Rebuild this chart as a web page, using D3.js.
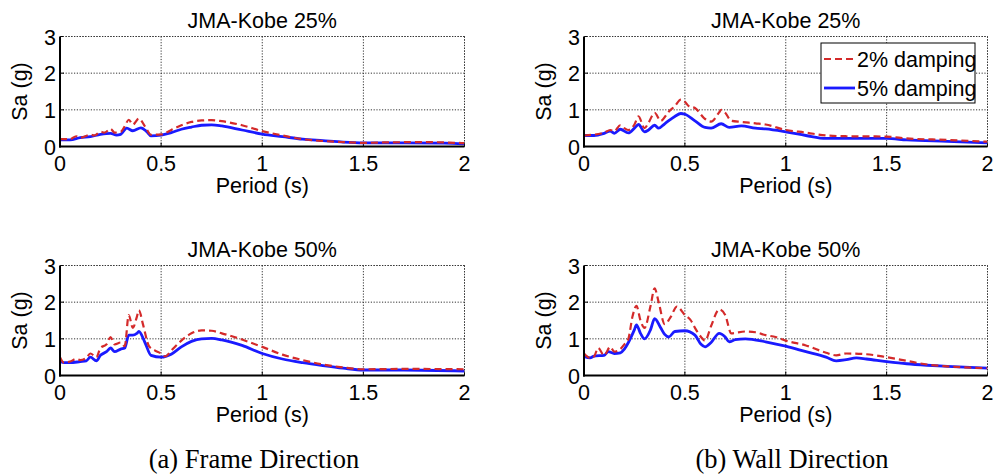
<!DOCTYPE html>
<html>
<head>
<meta charset="utf-8">
<script src="https://cdn.jsdelivr.net/npm/d3@7"></script>
<style>
  html, body { margin: 0; padding: 0; background: #fff; }
  svg { display: block; }
</style>
</head>
<body>
<svg id="chart" width="993" height="475"></svg>
<script>
// ---------- data ----------
const titles = ["JMA-Kobe 25%", "JMA-Kobe 25%", "JMA-Kobe 50%", "JMA-Kobe 50%"];
const captions = ["(a) Frame Direction", "(b) Wall Direction"];
const legendLabels = ["2% damping", "5% damping"];
const xTicks = [0, 0.5, 1, 1.5, 2];
const yTicks = [0, 1, 2, 3];
const xLabel = "Period (s)";
const yLabel = "Sa (g)";

// Frame direction, JMA-Kobe 25%  [period, Sa]
const frame25_d2 = [[0,0.2],[0.05,0.2],[0.08,0.28],[0.1,0.24],[0.15,0.32],[0.17,0.3],[0.2,0.4],[0.22,0.38],[0.25,0.48],[0.27,0.38],[0.3,0.4],[0.32,0.55],[0.34,0.73],[0.36,0.6],[0.39,0.76],[0.42,0.55],[0.45,0.32],[0.5,0.33],[0.55,0.45],[0.6,0.58],[0.65,0.67],[0.7,0.71],[0.75,0.72],[0.8,0.69],[0.9,0.58],[1.0,0.42],[1.1,0.3],[1.2,0.2],[1.3,0.15],[1.4,0.12],[1.5,0.1],[1.6,0.11],[1.8,0.12],[2.0,0.09]];
const frame25_d5 = [[0,0.18],[0.05,0.18],[0.1,0.24],[0.15,0.27],[0.2,0.33],[0.25,0.36],[0.28,0.31],[0.3,0.33],[0.33,0.5],[0.36,0.43],[0.4,0.51],[0.43,0.4],[0.45,0.29],[0.5,0.31],[0.55,0.38],[0.6,0.47],[0.65,0.53],[0.7,0.58],[0.75,0.59],[0.8,0.56],[0.9,0.45],[1.0,0.34],[1.1,0.27],[1.2,0.2],[1.3,0.16],[1.4,0.12],[1.5,0.1],[1.7,0.1],[1.9,0.09],[2.0,0.07]];

// Wall direction, JMA-Kobe 25%
const wall25_d2 = [[0,0.3],[0.1,0.38],[0.13,0.45],[0.15,0.42],[0.18,0.58],[0.2,0.5],[0.22,0.45],[0.25,0.6],[0.27,0.82],[0.3,0.5],[0.32,0.65],[0.35,0.92],[0.38,0.7],[0.42,0.95],[0.45,1.1],[0.48,1.28],[0.5,1.22],[0.52,1.1],[0.55,1.05],[0.6,0.75],[0.63,0.68],[0.67,0.93],[0.68,1.0],[0.7,0.92],[0.73,0.7],[0.78,0.67],[0.85,0.63],[0.9,0.6],[1.0,0.45],[1.1,0.38],[1.2,0.3],[1.3,0.28],[1.5,0.27],[1.6,0.22],[1.8,0.18],[2.0,0.13]];
const wall25_d5 = [[0,0.3],[0.05,0.3],[0.1,0.36],[0.13,0.42],[0.15,0.36],[0.18,0.47],[0.22,0.37],[0.25,0.5],[0.27,0.6],[0.3,0.4],[0.32,0.45],[0.35,0.58],[0.37,0.5],[0.4,0.62],[0.45,0.82],[0.48,0.9],[0.5,0.88],[0.55,0.7],[0.6,0.52],[0.63,0.5],[0.68,0.62],[0.72,0.52],[0.78,0.56],[0.85,0.5],[0.9,0.48],[1.0,0.4],[1.1,0.3],[1.2,0.22],[1.3,0.22],[1.5,0.22],[1.6,0.18],[1.8,0.14],[2.0,0.1]];

// Frame direction, JMA-Kobe 50%
const frame50_d2 = [[0,0.5],[0.02,0.35],[0.05,0.38],[0.08,0.45],[0.1,0.42],[0.13,0.48],[0.15,0.6],[0.18,0.5],[0.2,0.75],[0.23,0.85],[0.25,1.05],[0.27,0.85],[0.3,0.9],[0.32,0.8],[0.34,1.65],[0.36,1.3],[0.38,1.6],[0.39,1.78],[0.41,1.4],[0.44,0.8],[0.47,0.68],[0.5,0.6],[0.52,0.52],[0.55,0.68],[0.6,0.95],[0.65,1.15],[0.7,1.23],[0.75,1.22],[0.8,1.15],[0.9,0.98],[1.0,0.78],[1.1,0.57],[1.2,0.42],[1.3,0.3],[1.4,0.22],[1.5,0.17],[1.7,0.18],[2.0,0.17]];
const frame50_d5 = [[0,0.38],[0.02,0.35],[0.05,0.35],[0.1,0.38],[0.13,0.4],[0.15,0.5],[0.18,0.4],[0.2,0.55],[0.23,0.65],[0.25,0.75],[0.27,0.65],[0.3,0.72],[0.32,0.75],[0.34,1.1],[0.36,1.1],[0.38,1.15],[0.39,1.2],[0.42,0.9],[0.45,0.55],[0.5,0.5],[0.55,0.58],[0.6,0.78],[0.65,0.93],[0.7,1.0],[0.75,1.01],[0.8,0.97],[0.9,0.82],[1.0,0.6],[1.1,0.45],[1.2,0.35],[1.3,0.27],[1.4,0.2],[1.5,0.15],[1.7,0.15],[2.0,0.12]];

// Wall direction, JMA-Kobe 50%
const wall50_d2 = [[0,0.6],[0.03,0.48],[0.05,0.52],[0.07,0.75],[0.1,0.55],[0.13,0.78],[0.15,0.65],[0.18,0.72],[0.2,0.85],[0.22,1.0],[0.24,1.6],[0.26,1.9],[0.28,1.5],[0.3,1.3],[0.33,1.9],[0.35,2.38],[0.37,2.0],[0.4,1.4],[0.43,1.6],[0.46,1.88],[0.5,1.65],[0.53,1.5],[0.55,1.3],[0.58,1.05],[0.6,0.95],[0.63,1.35],[0.67,1.8],[0.7,1.65],[0.73,1.15],[0.8,1.2],[0.85,1.18],[0.9,1.1],[0.95,1.05],[1.0,0.95],[1.1,0.82],[1.2,0.62],[1.25,0.55],[1.3,0.6],[1.4,0.58],[1.5,0.5],[1.6,0.4],[1.7,0.3],[1.8,0.25],[2.0,0.2]];
const wall50_d5 = [[0,0.52],[0.03,0.48],[0.05,0.53],[0.1,0.55],[0.12,0.65],[0.15,0.6],[0.18,0.62],[0.2,0.72],[0.22,0.9],[0.25,1.25],[0.26,1.38],[0.28,1.15],[0.3,1.0],[0.33,1.25],[0.35,1.55],[0.38,1.3],[0.4,1.12],[0.42,1.05],[0.45,1.2],[0.5,1.22],[0.55,1.1],[0.58,0.85],[0.6,0.78],[0.63,0.9],[0.67,1.15],[0.7,1.05],[0.72,0.92],[0.75,0.98],[0.8,1.0],[0.9,0.92],[1.0,0.8],[1.1,0.65],[1.2,0.5],[1.25,0.4],[1.3,0.43],[1.35,0.48],[1.4,0.45],[1.5,0.38],[1.6,0.32],[1.7,0.28],[1.8,0.25],[2.0,0.2]];

// ---------- layout ----------
const panels = [
  { title: titles[0], d2: frame25_d2, d5: frame25_d5, left: 60,  right: 464.5, top: 36.5,  bottom: 146.5, legend: false },
  { title: titles[1], d2: wall25_d2,  d5: wall25_d5,  left: 584, right: 987.5, top: 36.5,  bottom: 146.5, legend: true },
  { title: titles[2], d2: frame50_d2, d5: frame50_d5, left: 60,  right: 464.5, top: 265.5, bottom: 375.5, legend: false },
  { title: titles[3], d2: wall50_d2,  d5: wall50_d5,  left: 584, right: 987.5, top: 265.5, bottom: 375.5, legend: false }
];

const RED = "#d42a2a";
const BLUE = "#1a1aff";
const FONT = "'Liberation Sans', Arial, sans-serif";
const FS = 21.5;
const svg = d3.select("#chart");

panels.forEach((p, i) => {
  const x = d3.scaleLinear().domain([0, 2]).range([p.left, p.right]);
  const y = d3.scaleLinear().domain([0, 3]).range([p.bottom, p.top]);
  const g = svg.append("g");

  // grid
  g.append("g").selectAll("line.vg").data(xTicks.slice(1)).join("line")
    .attr("x1", d => x(d)).attr("x2", d => x(d))
    .attr("y1", p.top).attr("y2", p.bottom)
    .attr("stroke", "#333").attr("stroke-width", 1).attr("stroke-dasharray", "1.2,1.6");
  g.append("g").selectAll("line.hg").data(yTicks.slice(1)).join("line")
    .attr("x1", p.left).attr("x2", p.right)
    .attr("y1", d => y(d)).attr("y2", d => y(d))
    .attr("stroke", "#333").attr("stroke-width", 1).attr("stroke-dasharray", "1.2,1.6");

  // inward ticks
  const tl = 4;
  g.append("g").selectAll("line").data(xTicks).join("line")
    .attr("x1", d => x(d)).attr("x2", d => x(d))
    .attr("y1", p.bottom).attr("y2", p.bottom - tl)
    .attr("stroke", "#000").attr("stroke-width", 1);
  g.append("g").selectAll("line").data(yTicks).join("line")
    .attr("x1", p.left).attr("x2", p.left + tl)
    .attr("y1", d => y(d)).attr("y2", d => y(d))
    .attr("stroke", "#000").attr("stroke-width", 1);

  // series
  const clipId = "clip" + i;
  svg.append("clipPath").attr("id", clipId).append("rect")
    .attr("x", p.left).attr("y", p.top).attr("width", p.right - p.left).attr("height", p.bottom - p.top);
  const line = d3.line().x(d => x(d[0])).y(d => y(d[1])).curve(d3.curveMonotoneX);
  const sg = g.append("g").attr("clip-path", `url(#${clipId})`);
  sg.append("path").attr("d", line(p.d5)).attr("fill", "none")
    .attr("stroke", BLUE).attr("stroke-width", 2.8).attr("stroke-linejoin", "round");
  sg.append("path").attr("d", line(p.d2)).attr("fill", "none")
    .attr("stroke", RED).attr("stroke-width", 2.2).attr("stroke-dasharray", "7,4");

  // box: top/right dotted, left/bottom solid
  g.append("line").attr("x1", p.left).attr("x2", p.right).attr("y1", p.top).attr("y2", p.top)
    .attr("stroke", "#333").attr("stroke-width", 1).attr("stroke-dasharray", "1.2,1.6");
  g.append("line").attr("x1", p.right).attr("x2", p.right).attr("y1", p.top).attr("y2", p.bottom)
    .attr("stroke", "#333").attr("stroke-width", 1).attr("stroke-dasharray", "1.2,1.6");
  g.append("line").attr("x1", p.left).attr("x2", p.left).attr("y1", p.top).attr("y2", p.bottom + 1)
    .attr("stroke", "#000").attr("stroke-width", 2);
  g.append("line").attr("x1", p.left - 1).attr("x2", p.right).attr("y1", p.bottom).attr("y2", p.bottom)
    .attr("stroke", "#000").attr("stroke-width", 2);

  // tick labels
  g.append("g").selectAll("text").data(xTicks).join("text")
    .attr("x", d => x(d)).attr("y", p.bottom + 24)
    .attr("text-anchor", "middle").attr("font-family", FONT).attr("font-size", FS)
    .text(d => d3.format("")(d));
  g.append("g").selectAll("text").data(yTicks).join("text")
    .attr("x", p.left - 4).attr("y", d => y(d) + 8)
    .attr("text-anchor", "end").attr("font-family", FONT).attr("font-size", FS)
    .text(d => d);

  // axis labels
  const cx = (p.left + p.right) / 2;
  g.append("text").attr("x", cx).attr("y", p.bottom + 46)
    .attr("text-anchor", "middle").attr("font-family", FONT).attr("font-size", FS)
    .text(xLabel);
  const cy = (p.top + p.bottom) / 2;
  g.append("text").attr("transform", `translate(${p.left - 33},${cy}) rotate(-90)`)
    .attr("text-anchor", "middle").attr("font-family", FONT).attr("font-size", FS)
    .text(yLabel);

  // title
  g.append("text").attr("x", cx).attr("y", p.top - 9)
    .attr("text-anchor", "middle").attr("font-family", FONT).attr("font-size", FS)
    .text(p.title);

  // legend
  if (p.legend) {
    const lg = g.append("g");
    lg.append("rect").attr("x", 821).attr("y", 43).attr("width", 154).attr("height", 60)
      .attr("fill", "#fff").attr("stroke", "#000").attr("stroke-width", 1);
    const items = [
      { label: legendLabels[0], color: RED, dash: "7,4", w: 2.2, yy: 59 },
      { label: legendLabels[1], color: BLUE, dash: null, w: 2.8, yy: 88 }
    ];
    items.forEach(it => {
      lg.append("line").attr("x1", 824).attr("x2", 855).attr("y1", it.yy).attr("y2", it.yy)
        .attr("stroke", it.color).attr("stroke-width", it.w)
        .attr("stroke-dasharray", it.dash);
      lg.append("text").attr("x", 857).attr("y", it.yy + 7.5)
        .attr("font-family", FONT).attr("font-size", FS).text(it.label);
    });
  }
});

// captions
const capX = [254, 792];
svg.append("g").selectAll("text").data(captions).join("text")
  .attr("x", (d, i) => capX[i]).attr("y", 468)
  .attr("text-anchor", "middle")
  .attr("font-family", "'Liberation Serif', 'Times New Roman', serif")
  .attr("font-size", 26.5)
  .text(d => d);
</script>
</body>
</html>
